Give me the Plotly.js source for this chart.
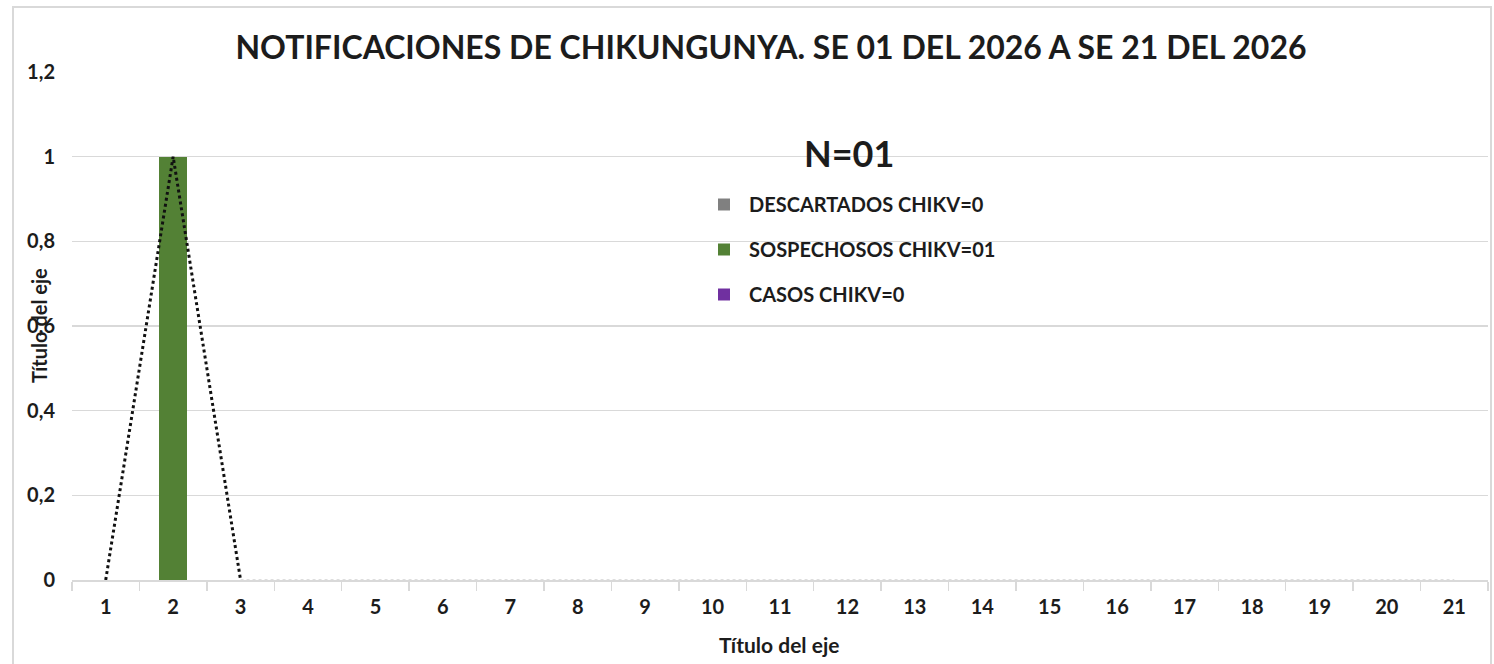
<!DOCTYPE html>
<html>
<head>
<meta charset="utf-8">
<script src="https://cdn.plot.ly/plotly-3.0.1.min.js"></script>
<style>
  html, body { margin: 0; padding: 0; background: #ffffff; }
  #chart { width: 1494px; height: 664px; }
</style>
</head>
<body>
<div id="chart"></div>
<script>
// Data
const semanas = ['1','2','3','4','5','6','7','8','9','10','11','12','13','14','15','16','17','18','19','20','21'];
const descartados = [0,0,0,0,0,0,0,0,0,0,0,0,0,0,0,0,0,0,0,0,0];
const sospechosos = [0,1,0,0,0,0,0,0,0,0,0,0,0,0,0,0,0,0,0,0,0];
const casos = [0,0,0,0,0,0,0,0,0,0,0,0,0,0,0,0,0,0,0,0,0];
const tendencia = [0,1,0,0,0,0,0,0,0,0,0,0,0,0,0,0,0,0,0,0,0];
const nombres = ['DESCARTADOS CHIKV=0', 'SOSPECHOSOS CHIKV=01', 'CASOS CHIKV=0'];
const tituloGrafico = 'NOTIFICACIONES DE CHIKUNGUNYA. SE 01 DEL 2026 A SE 21 DEL 2026';
const tituloN = 'N=01';
const tituloEje = 'Título del eje';

const FONT = 'Lato, "Open Sans", sans-serif';
const TXT = '#1c1c1c';
const PX = (px) => (px - 72) / 1416;
const PY = (py) => (580 - py) / 508;

const traces = [
  { type: 'bar', x: semanas, y: descartados, name: nombres[0], marker: { color: '#808080' }, legendgroup: 'a' },
  { type: 'bar', x: semanas, y: sospechosos, name: nombres[1], marker: { color: '#538135' }, legendgroup: 'b' },
  { type: 'bar', x: semanas, y: casos, name: nombres[2], marker: { color: '#7030a0' }, legendgroup: 'c' },
  { type: 'scatter', mode: 'lines', x: semanas.slice(2), y: tendencia.slice(2), showlegend: false,
    line: { color: '#d4d4d4', width: 1.5, dash: 'dot' }, hoverinfo: 'skip' },
  { type: 'scatter', mode: 'lines', x: semanas.slice(0, 3), y: tendencia.slice(0, 3), showlegend: false,
    line: { color: '#111111', width: 3, dash: 'dot' } }
];

const layout = {
  width: 1494, height: 664,
  margin: { l: 72, r: 6, t: 72, b: 84 },
  paper_bgcolor: '#ffffff', plot_bgcolor: '#ffffff',
  separators: ',.',
  barmode: 'stack',
  bargap: 0.585,
  showlegend: true,
  font: { family: FONT, color: TXT },
  title: {
    text: tituloGrafico,
    font: { family: FONT, size: 32, weight: 'bold', color: TXT },
    xref: 'container', yref: 'container',
    x: 771 / 1494, xanchor: 'center', y: 1 - 48 / 664, yanchor: 'middle'
  },
  legend: {
    x: PX(699), xanchor: 'left', y: PY(185), yanchor: 'top',
    bgcolor: 'rgba(0,0,0,0)',
    font: { family: FONT, size: 20, weight: 'bold', color: TXT },
    traceorder: 'grouped', tracegroupgap: 16, itemwidth: 40
  },
  xaxis: {
    type: 'category',
    tickson: 'boundaries',
    ticks: 'outside', ticklen: 9, tickcolor: '#d9d9d9', tickwidth: 1.5,
    showline: true, linecolor: '#d9d9d9', linewidth: 1.5,
    showgrid: false, zeroline: false,
    ticklabelstandoff: 8,
    tickfont: { family: FONT, size: 20, weight: 'bold', color: TXT },
    fixedrange: true
  },
  yaxis: {
    range: [0, 1.2], dtick: 0.2, tick0: 0,
    showgrid: true, gridcolor: '#d9d9d9', gridwidth: 1.2,
    zeroline: false, showline: false, ticks: '',
    ticklabelstandoff: 16,
    tickfont: { family: FONT, size: 20, weight: 'bold', color: TXT },
    fixedrange: true
  },
  annotations: [
    { text: tituloN, xref: 'paper', yref: 'paper', x: PX(849), y: PY(153),
      xanchor: 'center', yanchor: 'middle', showarrow: false,
      font: { family: FONT, size: 36, weight: 'bold', color: TXT } },
    { text: tituloEje, xref: 'paper', yref: 'paper', x: PX(779), y: PY(644),
      xanchor: 'center', yanchor: 'middle', showarrow: false,
      font: { family: FONT, size: 21, weight: 'bold', color: TXT } },
    { text: tituloEje, xref: 'paper', yref: 'paper', x: PX(39), y: PY(326), textangle: -90,
      xanchor: 'center', yanchor: 'middle', showarrow: false,
      font: { family: FONT, size: 20, weight: 'bold', color: TXT } }
  ],
  shapes: [
    { type: 'rect', xref: 'paper', yref: 'paper',
      x0: PX(13), x1: PX(1491), y0: PY(700), y1: PY(7),
      line: { color: '#d9d9d9', width: 2 }, fillcolor: 'rgba(0,0,0,0)', layer: 'below' }
  ]
};

Plotly.newPlot('chart', traces, layout, { displayModeBar: false, staticPlot: true });
</script>
</body>
</html>
